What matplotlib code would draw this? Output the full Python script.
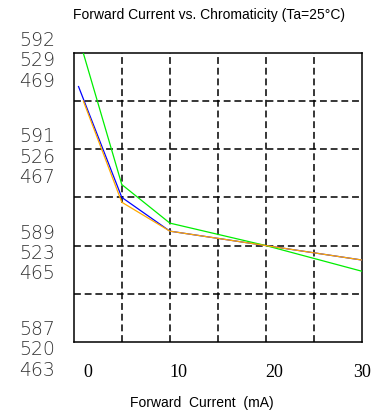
import matplotlib
matplotlib.use("Agg")
import matplotlib.pyplot as plt

# ---------------------------------------------------------------------------
# Data (forward current in mA, dominant wavelength nm)
# ---------------------------------------------------------------------------
current_mA = [0.5, 5, 10, 20, 30]
current_red_mA = [1.0, 5, 10, 20, 30]

red_nm = [592.0, 589.9, 589.3, 589.0, 588.7]      # orange curve
green_nm = [529.5, 524.9, 523.7, 523.0, 522.2]    # green curve
blue_nm = [468.3, 466.0, 465.3, 465.0, 464.7]     # blue curve

# stacked y labels, bottom to top (one group per second grid line)
red_labels = ["587", "589", "591", "592"]
green_labels = ["520", "523", "526", "529"]
blue_labels = ["463", "465", "467", "469"]

x_labels = ["0", "10", "20", "30"]
x_label_pos = [1.5, 10.9, 20.8, 30.0]

# ---------------------------------------------------------------------------
fig = plt.figure(figsize=(3.82, 4.14), dpi=100)
ax = fig.add_axes([0.193, 0.1715, 0.755, 0.6985])

ax.set_xlim(0, 30)
ax.set_ylim(0, 6)

# dashed grid on minor ticks, labels on major ticks
ax.set_xticks([5, 10, 15, 20, 25], minor=True)
ax.set_yticks([1, 2, 3, 4, 5], minor=True)
ax.grid(which="minor", color="black", linewidth=1.1, dashes=(4.5, 2.5))
ax.tick_params(which="both", length=0)
ax.set_yticks([])
ax.set_xticks(x_label_pos)
ax.set_xticklabels(x_labels, family="Liberation Serif", fontsize=13)
ax.tick_params(axis="x", pad=15)
for sp in ax.spines.values():
    sp.set_linewidth(1.1)

# the stacked y tick labels (three wavelength scales)
ytf = ax.get_yaxis_transform()
groups = [(red_labels, 9.7), (green_labels, -4.9), (blue_labels, -19.6)]
for labels, dy in groups:
    for i, lab in enumerate(labels):
        ax.annotate(lab, xy=(-0.19, i * 2), xycoords=ytf,
                    xytext=(0, dy), textcoords="offset points",
                    ha="left", va="center", fontsize=13.5,
                    family="DejaVu Sans", weight="light", color="#333333",
                    annotation_clip=False)

# one hidden axis per colour, each with its own wavelength scale
def add_curve(x, values, ylim, color):
    tw = ax.twinx()
    tw.set_ylim(*ylim)
    tw.set_xlim(0, 30)
    tw.axis("off")
    tw.plot(x, values, color=color, linewidth=0.9)
    return tw

add_curve(current_mA, blue_nm, (463, 469), "#0000ff")
add_curve(current_mA, green_nm, (520, 529), "#00ee00")
add_curve(current_red_mA, red_nm, (587, 593), "#ffaa00")

fig.text(0.548, 0.963, "Forward Current vs. Chromaticity (Ta=25°C)",
         ha="center", va="center", fontsize=10, family="Liberation Sans")
fig.text(0.528, 0.027, "Forward  Current  (mA)",
         ha="center", va="center", fontsize=10, family="Liberation Sans")

fig.savefig("out.png", dpi=100)
